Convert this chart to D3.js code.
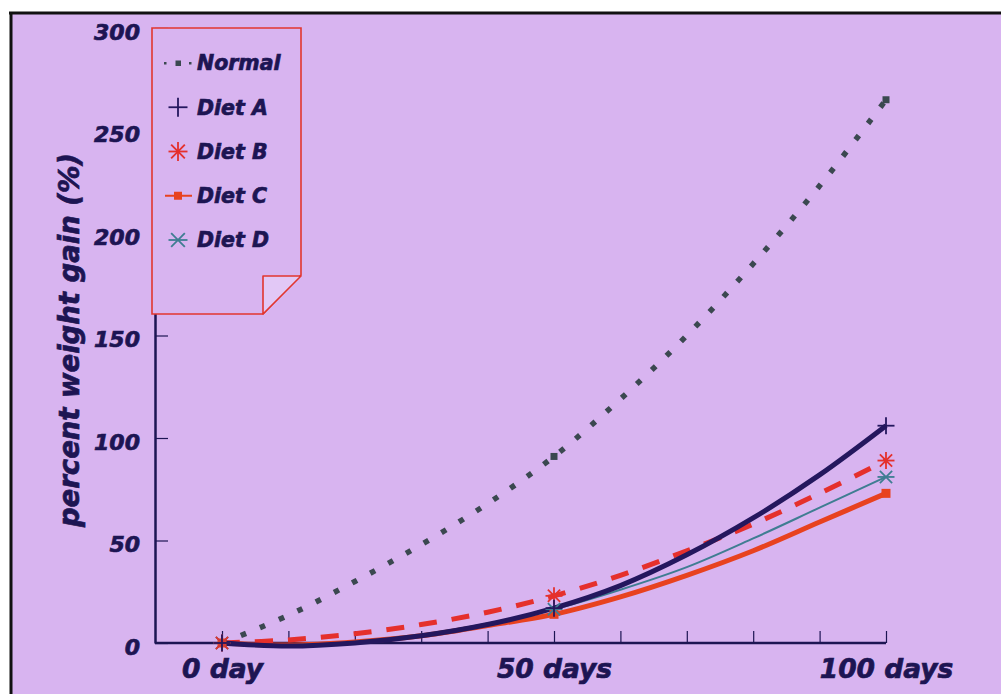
<!DOCTYPE html>
<html>
<head>
<meta charset="utf-8">
<script src="https://cdn.jsdelivr.net/npm/d3@7"></script>
<style>
  body { margin: 0; background: #fff; }
  svg text { font-family: "DejaVu Sans", sans-serif; font-weight: bold; font-style: italic; fill: #1d1553; stroke: #1d1553; stroke-width: 0.7px; }
</style>
</head>
<body>
<div id="chart"></div>
<script>
const width = 1001;
const height = 694;
const bgColor = '#d8b4f0';
const inkColor = '#1d1553';

// data, every 10 days
const days = [0, 10, 20, 30, 40, 50, 60, 70, 80, 90, 100];
const normal = [0, 13.5, 30, 48, 68, 91, 119, 150, 185, 223, 265];
const dietA = [0, -1.5, 0, 3.5, 9, 17, 28, 43, 61, 82, 106];
const dietB = [0, 1.5, 4.5, 9, 15, 23, 33, 45, 58, 73, 89];
const dietC = [0, -1, 0.5, 3.5, 8.5, 14, 22.5, 33, 45, 59, 73];
const dietD = [0, -1, 0.5, 4, 9.5, 16.5, 26, 37, 51, 66, 81];
const markerDays = [0, 50, 100];

const seriesNames = ['Normal', 'Diet A', 'Diet B', 'Diet C', 'Diet D'];
const xTickValues = [0, 10, 20, 30, 40, 50, 60, 70, 80, 90, 100];
const xTickLabels = { 0: '0 day', 50: '50 days', 100: '100 days' };
const yTickValues = [0, 50, 100, 150, 200, 250, 300];

const series = [
  { name: 'Normal', values: normal, color: '#3b4850', width: 5.5, dash: '5.5,15', marker: 'square' },
  { name: 'Diet C', values: dietC, color: '#e8421f', width: 5, dash: null, marker: 'square' },
  { name: 'Diet D', values: dietD, color: '#3f7d92', width: 2, dash: null, marker: 'star6' },
  { name: 'Diet B', values: dietB, color: '#e5302c', width: 5, dash: '18,15', marker: 'star8' },
  { name: 'Diet A', values: dietA, color: '#24175e', width: 5, dash: null, marker: 'plus' }
];

const svg = d3.select('#chart').append('svg')
  .attr('width', width)
  .attr('height', height);

// background and scan frame
svg.append('rect').attr('x', 11).attr('y', 13).attr('width', width - 11).attr('height', height - 13)
  .attr('fill', bgColor);
svg.append('line').attr('x1', 9).attr('x2', width).attr('y1', 13).attr('y2', 13)
  .attr('stroke', '#111').attr('stroke-width', 3);
svg.append('line').attr('x1', 11).attr('x2', 11).attr('y1', 12).attr('y2', height)
  .attr('stroke', '#111').attr('stroke-width', 3);

const x = d3.scaleLinear().domain([0, 100]).range([222, 886]);
const y = d3.scaleLinear().domain([0, 300]).range([643, 28]);
const axisX = 155;

// y axis
const yAxis = svg.append('g')
  .attr('transform', `translate(${axisX},0)`)
  .call(d3.axisLeft(y).tickValues(yTickValues).tickSizeInner(-13).tickSizeOuter(0).tickPadding(15));
yAxis.select('.domain').attr('stroke', inkColor).attr('stroke-width', 2.5);
yAxis.selectAll('.tick line').attr('stroke', inkColor).attr('stroke-width', 1.2);
yAxis.selectAll('.tick text').attr('font-size', 22).attr('dy', '0.52em').attr('fill', inkColor);

// x axis
const xAxis = svg.append('g')
  .attr('transform', `translate(0,${y(0)})`)
  .call(d3.axisBottom(x).tickValues(xTickValues).tickSizeInner(-12).tickSizeOuter(0).tickPadding(16)
    .tickFormat(d => xTickLabels[d] || ''));
xAxis.select('.domain').remove();
xAxis.append('line').attr('x1', axisX).attr('x2', x(100)).attr('y1', 0).attr('y2', 0)
  .attr('stroke', inkColor).attr('stroke-width', 2.5);
xAxis.selectAll('.tick line').attr('stroke', inkColor).attr('stroke-width', 1.2);
xAxis.selectAll('.tick text').attr('font-size', 26.5).attr('fill', inkColor);

// axis title
svg.append('text')
  .attr('transform', 'translate(79,340) rotate(-90)')
  .attr('text-anchor', 'middle')
  .attr('font-size', 27.5)
  .text('percent weight gain (%)');

const line = d3.line()
  .x((d, i) => x(days[i]))
  .y(d => y(d))
  .curve(d3.curveCatmullRom.alpha(0.5));

function drawMarker(g, type, cx, cy, color, s) {
  const m = g.append('g').attr('transform', `translate(${cx},${cy})`);
  if (type === 'square') {
    m.append('rect').attr('x', -s / 2).attr('y', -s / 2).attr('width', s).attr('height', s).attr('fill', color);
    return;
  }
  const h = s / 2;
  const d = h * 0.72;
  let segs = [];
  if (type === 'plus') segs = [[-h, 0, h, 0], [0, -h, 0, h]];
  if (type === 'star8') segs = [[-h, 0, h, 0], [0, -h, 0, h], [-d, -d, d, d], [-d, d, d, -d]];
  if (type === 'star6') segs = [[-h, 0, h, 0], [-d, -d, d, d], [-d, d, d, -d]];
  segs.forEach(p => m.append('line')
    .attr('x1', p[0]).attr('y1', p[1]).attr('x2', p[2]).attr('y2', p[3])
    .attr('stroke', color).attr('stroke-width', 1.8));
}

// lines
const plot = svg.append('g');
series.forEach(s => {
  plot.append('path')
    .datum(s.values)
    .attr('d', line)
    .attr('fill', 'none')
    .attr('stroke', s.color)
    .attr('stroke-width', s.width)
    .attr('stroke-dasharray', s.dash)
    .attr('stroke-linecap', 'butt')
    .attr('stroke-linejoin', 'round');
});
series.forEach(s => {
  markerDays.forEach(day => {
    const v = s.values[days.indexOf(day)];
    const size = s.marker === 'square' ? (s.name === 'Normal' ? 7 : 9) : 17;
    drawMarker(plot, s.marker, x(day), y(v), s.color, size);
  });
});

// legend box with a folded corner
const legend = svg.append('g');
legend.append('path')
  .attr('d', 'M152,28 H301 V275 L263,314 H152 Z')
  .attr('fill', bgColor)
  .attr('stroke', '#e2362f')
  .attr('stroke-width', 1.6);
legend.append('path')
  .attr('d', 'M263,314 V276 H301 Z')
  .attr('fill', '#e2c8f6')
  .attr('stroke', '#e2362f')
  .attr('stroke-width', 1.6)
  .attr('stroke-linejoin', 'round');

const legendY = d3.scalePoint().domain(seriesNames).range([63, 240]);
const byName = Object.fromEntries(series.map(s => [s.name, s]));
seriesNames.forEach(name => {
  const s = byName[name];
  const ly = legendY(name);
  if (name === 'Normal') {
    legend.append('rect').attr('x', 164).attr('y', ly - 1).attr('width', 2.5).attr('height', 2.5).attr('fill', s.color);
    legend.append('rect').attr('x', 175.5).attr('y', ly - 2.5).attr('width', 5.5).attr('height', 5.5).attr('fill', s.color);
    legend.append('rect').attr('x', 189).attr('y', ly - 1).attr('width', 2.5).attr('height', 2.5).attr('fill', s.color);
  } else if (name === 'Diet C') {
    legend.append('line').attr('x1', 165).attr('x2', 192).attr('y1', ly).attr('y2', ly)
      .attr('stroke', s.color).attr('stroke-width', 2);
    drawMarker(legend, 'square', 178, ly, s.color, 8);
  } else {
    drawMarker(legend, s.marker, 178, ly, s.color, 19);
  }
  legend.append('text')
    .attr('x', 197)
    .attr('y', ly)
    .attr('dy', '0.36em')
    .attr('font-size', 20.5)
    .text(name);
});
</script>
</body>
</html>
